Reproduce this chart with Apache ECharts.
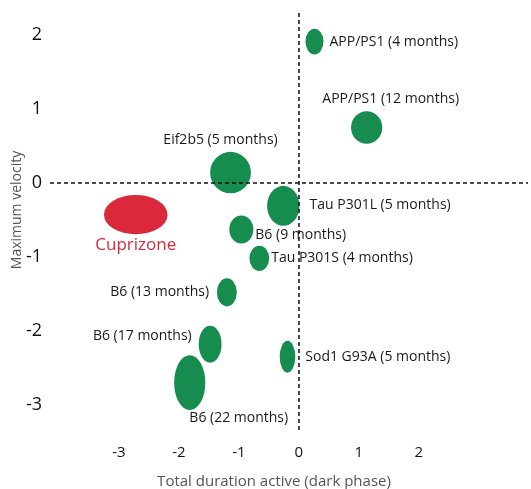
<!DOCTYPE html>
<html><head><meta charset="utf-8">
<script src="https://cdn.jsdelivr.net/npm/echarts@6/dist/echarts.min.js"></script>
<style>html,body{margin:0;padding:0;background:#fff}#c{width:531px;height:489px}</style>
</head><body><div id="c"></div>
<script>
// ---- data ----
const names = ['APP/PS1 (4 months)','APP/PS1 (12 months)','Eif2b5 (5 months)','Cuprizone','Tau P301L (5 months)','B6 (9 months)','Tau P301S (4 months)','B6 (13 months)','B6 (17 months)','B6 (22 months)','Sod1 G93A (5 months)'];
const totalDuration = [0.26, 1.13, -1.14, -2.72, -0.26, -0.96, -0.66, -1.20, -1.48, -1.82, -0.19];
const maxVelocity   = [1.91, 0.75, 0.14, -0.43, -0.31, -0.63, -1.02, -1.48, -2.18, -2.70, -2.35];
const durationSpread = [0.30, 0.52, 0.68, 1.06, 0.54, 0.40, 0.33, 0.33, 0.38, 0.52, 0.26];
const velocitySpread = [0.35, 0.44, 0.56, 0.53, 0.54, 0.38, 0.34, 0.38, 0.50, 0.74, 0.43];
const highlighted = ['Cuprizone'];
const xTicks = [-3, -2, -1, 0, 1, 2];
const yTicks = [-3, -2, -1, 0, 1, 2];

// ---- styles ----
const GREEN = '#168c4e', RED = '#d9293b';
const FONT = 'Open Sans';
const labelStyle = {
  'APP/PS1 (4 months)':   {position:'right', distance:6},
  'APP/PS1 (12 months)':  {position:'top', distance:5, offset:[24,0]},
  'Eif2b5 (5 months)':    {position:'top', distance:5, offset:[-10,0]},
  'Cuprizone':            {position:'bottom', distance:2},
  'Tau P301L (5 months)': {position:'right', distance:10, offset:[0,-1]},
  'B6 (9 months)':        {position:'right', distance:2, offset:[0,6]},
  'Tau P301S (4 months)': {position:'right', distance:2},
  'B6 (13 months)':       {position:'left', distance:8},
  'B6 (17 months)':       {position:'left', distance:7, offset:[0,-8]},
  'B6 (22 months)':       {position:'bottom', distance:1, offset:[49,0]},
  'Sod1 G93A (5 months)': {position:'right', distance:10}
};

const chart = echarts.init(document.getElementById('c'), null, {renderer:'canvas'});

function buildData(pxX, pxY) {
  return names.map((n, i) => {
    const hi = highlighted.includes(n);
    const ls = labelStyle[n] || {};
    return {
      name: n,
      value: [totalDuration[i], maxVelocity[i]],
      symbolSize: [durationSpread[i] * pxX, velocitySpread[i] * pxY],
      itemStyle: {color: hi ? RED : GREEN, opacity: 1},
      label: Object.assign({
        show: true,
        formatter: n,
        color: hi ? RED : '#1a1a1a',
        fontSize: hi ? 17 : 14,
        fontWeight: hi ? 500 : 400,
        fontFamily: FONT
      }, ls)
    };
  });
}

const option = {
  animation: false,
  backgroundColor: '#fff',
  grid: {left: 50, right: 3, top: 12, bottom: 59, containLabel: false, outerBoundsMode: 'none'},
  xAxis: {
    type: 'value', min: -4.15, max: 3.82, minInterval: 1, maxInterval: 1,
    splitLine: {show: false}, axisLine: {show: false}, axisTick: {show: false},
    axisLabel: {
      margin: 15, color: '#111', fontSize: 15, fontFamily: FONT,
      showMinLabel: false, showMaxLabel: false,
      formatter: v => xTicks.includes(v) ? String(v) : ''
    },
    name: 'Total duration active (dark phase)', nameLocation: 'middle', nameGap: 44,
    nameMoveOverlap: false,
    nameTextStyle: {color: '#555', fontSize: 15, fontFamily: FONT, padding: [0, 30, 0, 0]}
  },
  yAxis: {
    type: 'value', min: -3.34, max: 2.31, minInterval: 1, maxInterval: 1,
    splitLine: {show: false}, axisLine: {show: false}, axisTick: {show: false},
    axisLabel: {
      margin: 8, color: '#111', fontSize: 18, fontFamily: FONT,
      showMinLabel: false, showMaxLabel: false,
      formatter: v => yTicks.includes(v) ? String(v) : ''
    },
    name: 'Maximum velocity', nameLocation: 'middle', nameGap: 26, nameRotate: 90,
    nameMoveOverlap: false,
    nameTextStyle: {color: '#555', fontSize: 14, fontFamily: FONT, padding: [0, 0, 0, 22]}
  },
  series: [{
    type: 'scatter',
    symbol: 'circle',
    itemStyle: {opacity: 1},
    data: buildData(60, 74),
    markLine: {
      silent: true, symbol: ['none', 'none'], animation: false,
      label: {show: false},
      lineStyle: {type: [4, 3], color: '#111', width: 1.5},
      data: [{xAxis: 0}, {yAxis: 0}]
    }
  }]
};
chart.setOption(option);
const o = chart.convertToPixel({gridIndex: 0}, [0, 0]);
const a = chart.convertToPixel({gridIndex: 0}, [1, 1]);
const pxX = Math.abs(a[0] - o[0]), pxY = Math.abs(a[1] - o[1]);
chart.setOption({series: [{data: buildData(pxX, pxY)}]});
</script>
</body></html>
